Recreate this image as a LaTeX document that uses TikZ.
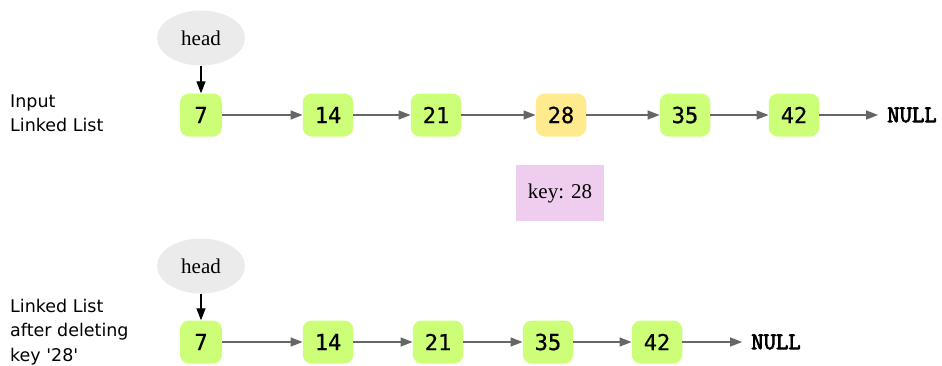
\documentclass[tikz,border=0pt]{standalone}
\usepackage{fontspec}
\setmainfont{Liberation Serif}
\setsansfont{DejaVu Sans}
\setmonofont{DejaVu Sans Mono}
\newfontfamily\nulltxtfont{Latin Modern Mono}[FakeBold=3]
\newfontfamily\numtxtfont{DejaVu Sans Mono}[FakeBold=0.7]
\usetikzlibrary{arrows.meta,shapes.geometric}
\definecolor{nodegreen}{HTML}{CCFF77}
\definecolor{nodeyellow}{HTML}{FFEA8E}
\definecolor{keypink}{HTML}{EECDEE}
\definecolor{headgray}{HTML}{EBEBEB}
\definecolor{linkgray}{HTML}{666666}
\begin{document}
\begin{tikzpicture}[x=1pt,y=-1pt,
  listnode/.style={rectangle,rounded corners=9pt,fill=nodegreen,draw=none,
    minimum width=42pt,minimum height=43pt,inner xsep=12pt,
    font=\fontsize{22}{24}\numtxtfont},
  keynode/.style={listnode,fill=nodeyellow},
  headnode/.style={ellipse,fill=headgray,draw=none,minimum width=88pt,minimum height=55pt,
    font=\fontsize{21}{24}\rmfamily},
  nulltext/.style={inner sep=0pt,font=\fontsize{24}{24}\nulltxtfont},
  label/.style={align=left,anchor=west,inner sep=0pt,font=\fontsize{17.5}{24.5}\sffamily},
  link/.style={draw=linkgray,line width=1.3pt,-{Triangle[length=12pt,width=9pt]}},
  headlink/.style={draw=black,line width=1.3pt,-{Triangle[length=12pt,width=9pt]}}
]
\useasboundingbox (0,0) rectangle (942,365);
% top row
\node[label] (lab1) at (10,113) {Input\\Linked List};
\node[headnode] (h1) at (201,38) {head};
\node[listnode] (a7) at (201,115) {7};
\node[listnode] (a14) at (328,115) {14};
\node[listnode] (a21) at (436,115) {21};
\node[keynode] (a28) at (561,115) {28};
\node[listnode] (a35) at (685,115) {35};
\node[listnode] (a42) at (794,115) {42};
\node[nulltext] (anull) at (912,115) {NULL};
\draw[headlink] (h1) -- (a7);
\draw[link] (a7) -- (a14);
\draw[link] (a14) -- (a21);
\draw[link] (a21) -- (a28);
\draw[link] (a28) -- (a35);
\draw[link] (a35) -- (a42);
\draw[link] (a42) -- ([xshift=-9pt]anull.west);
% key
\node[fill=keypink,minimum width=88pt,minimum height=56pt,font=\fontsize{21}{24}\rmfamily] (key) at (560,193) {key: 28};
% bottom row
\node[label] (lab2) at (10,332) {Linked List\\after deleting\\key \textquotesingle 28\textquotesingle};
\node[headnode] (h2) at (201,266) {head};
\node[listnode] (b7) at (201,342) {7};
\node[listnode] (b14) at (328,342) {14};
\node[listnode] (b21) at (438,342) {21};
\node[listnode] (b35) at (548,342) {35};
\node[listnode] (b42) at (657,342) {42};
\node[nulltext] (bnull) at (776,342) {NULL};
\draw[headlink] (h2) -- (b7);
\draw[link] (b7) -- (b14);
\draw[link] (b14) -- (b21);
\draw[link] (b21) -- (b35);
\draw[link] (b35) -- (b42);
\draw[link] (b42) -- ([xshift=-9pt]bnull.west);
\end{tikzpicture}
\end{document}
